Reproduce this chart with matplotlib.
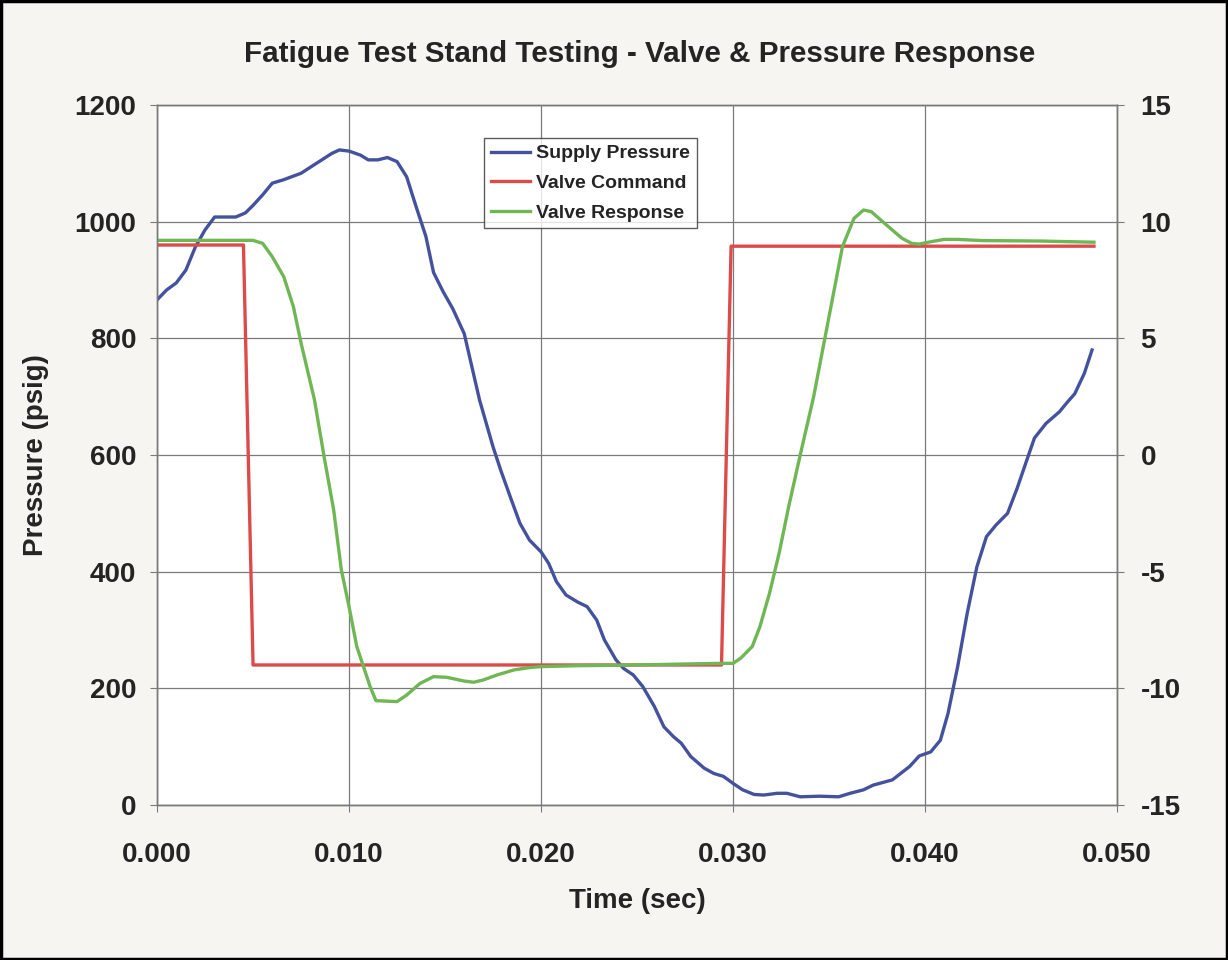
import matplotlib
matplotlib.use("Agg")
import matplotlib.pyplot as plt
from matplotlib.patches import Rectangle

# supply pressure (psig) vs time (sec)
t_supply = [0.0000, 0.0005, 0.0010, 0.0015, 0.0020, 0.0025, 0.0030, 0.0041, 0.0046, 0.0050,
            0.0055, 0.0060, 0.0066, 0.0075, 0.0083, 0.0091, 0.0095, 0.0100, 0.0106, 0.0110,
            0.0115, 0.0120, 0.0125, 0.0130, 0.0135, 0.0140, 0.0144, 0.0149, 0.0154, 0.0160,
            0.0164, 0.0168, 0.0175, 0.0179, 0.0184, 0.0189, 0.0194, 0.0200, 0.0204, 0.0208,
            0.0213, 0.0219, 0.0224, 0.0229, 0.0233, 0.0239, 0.0243, 0.0248, 0.0253, 0.0259,
            0.0264, 0.0269, 0.0273, 0.0278, 0.0285, 0.0290, 0.0295, 0.0300, 0.0305, 0.0311,
            0.0316, 0.0323, 0.0328, 0.0335, 0.0345, 0.0355, 0.0361, 0.0368, 0.0373, 0.0383,
            0.0392, 0.0397, 0.0403, 0.0408, 0.0412, 0.0417, 0.0422, 0.0427, 0.0432, 0.0437,
            0.0443, 0.0448, 0.0453, 0.0457, 0.0463, 0.0470, 0.0474, 0.0478, 0.0483, 0.0487]
supply = [866, 883, 895, 917, 957, 986, 1008, 1008, 1015, 1028,
          1046, 1066, 1072, 1083, 1100, 1117, 1123, 1121, 1114, 1106,
          1106, 1110, 1103, 1077, 1025, 975, 913, 880, 851, 808,
          751, 694, 614, 574, 528, 483, 454, 434, 414, 383,
          360, 348, 340, 317, 283, 249, 234, 223, 203, 169,
          134, 117, 106, 83, 63, 54, 49, 37, 26, 18,
          17, 20, 20, 14, 15, 14, 20, 26, 34, 43,
          66, 84, 91, 111, 157, 237, 329, 408, 460, 480,
          500, 543, 591, 629, 654, 674, 690, 705, 740, 780]

# valve command (right axis)
t_cmd = [0.0000, 0.0045, 0.0050, 0.0294, 0.0299, 0.0488]
command = [9.0, 9.0, -9.0, -9.0, 8.95, 8.95]

# valve response (right axis)
t_resp = [0.0000, 0.0046, 0.0050, 0.0055, 0.0060, 0.0066, 0.0071, 0.0075, 0.0082, 0.0087,
          0.0092, 0.0096, 0.0100, 0.0104, 0.0111, 0.0114, 0.0125, 0.0130, 0.0137, 0.0144,
          0.0151, 0.0160, 0.0165, 0.0170, 0.0177, 0.0186, 0.0194, 0.0200, 0.0220, 0.0250,
          0.0280, 0.0295, 0.0300, 0.0304, 0.0310, 0.0314, 0.0319, 0.0324, 0.0329, 0.0335,
          0.0342, 0.0348, 0.0353, 0.0357, 0.0363, 0.0368, 0.0372, 0.0377, 0.0383, 0.0388,
          0.0393, 0.0397, 0.0403, 0.0410, 0.0417, 0.0430, 0.0460, 0.0488]
response = [9.2, 9.2, 9.2, 9.07, 8.5, 7.64, 6.36, 4.8, 2.36, -0.07,
            -2.36, -4.93, -6.5, -8.2, -9.93, -10.53, -10.57, -10.29, -9.79, -9.5,
            -9.53, -9.69, -9.74, -9.64, -9.43, -9.21, -9.11, -9.07, -9.03, -9.0,
            -8.95, -8.93, -8.93, -8.71, -8.21, -7.36, -5.93, -4.21, -2.21, 0.0,
            2.5, 5.07, 7.21, 8.93, 10.14, 10.5, 10.43, 10.07, 9.64, 9.29,
            9.07, 9.04, 9.14, 9.24, 9.24, 9.19, 9.17, 9.12]

x_ticks = [0.000, 0.010, 0.020, 0.030, 0.040, 0.050]
left_ticks = [0, 200, 400, 600, 800, 1000, 1200]
right_ticks = [-15, -10, -5, 0, 5, 10, 15]

plt.rcParams['font.family'] = ['Liberation Sans', 'DejaVu Sans']
plt.rcParams['font.weight'] = 'bold'
plt.rcParams['axes.unicode_minus'] = False

fig = plt.figure(figsize=(12.28, 9.6), dpi=100, facecolor='#f6f5f1')
ax = fig.add_axes([0.1279, 0.1615, 0.7817, 0.7291])
ax2 = ax.twinx()

grid_c = '#7a7a7a'
text_c = '#242424'
l1, = ax.plot(t_supply, supply, color='#44529e', lw=2.4, label='Supply Pressure')
l2, = ax2.plot(t_cmd, command, color='#dd4a4a', lw=2.4, label='Valve Command')
l3, = ax2.plot(t_resp, response, color='#6fb654', lw=2.4, label='Valve Response')

ax.set_xlim(0, 0.050)
ax.set_ylim(0, 1200)
ax2.set_ylim(-15, 15)
ax.set_xticks(x_ticks)
ax.set_xticklabels(['%.3f' % v for v in x_ticks])
ax.set_yticks(left_ticks)
ax2.set_yticks(right_ticks)

ax.grid(True, color=grid_c, lw=0.9)
ax.set_facecolor('white')
for a in (ax, ax2):
    for s in a.spines.values():
        s.set_color(grid_c)
        s.set_linewidth(1.0)
ax.tick_params(axis='both', direction='out', length=5, color=grid_c, labelsize=20)
ax.tick_params(axis='x', pad=22)
ax.tick_params(axis='y', pad=10)
ax2.tick_params(axis='y', direction='out', length=5, color=grid_c, labelsize=20, pad=12)
for lab in ax.get_xticklabels() + ax.get_yticklabels() + ax2.get_yticklabels():
    lab.set_fontweight('bold')
    lab.set_color(text_c)

ax.set_xlabel('Time (sec)', fontsize=20, fontweight='bold', color=text_c, labelpad=14)
ax.set_ylabel('Pressure (psig)', fontsize=20, fontweight='bold', color=text_c, labelpad=18)
fig.text(0.521, 0.944, 'Fatigue Test Stand Testing - Valve & Pressure Response',
         ha='center', va='center', fontsize=21.3, fontweight='bold', color=text_c)

leg = ax2.legend(handles=[l1, l2, l3], loc='upper left', bbox_to_anchor=(0.341, 0.953),
                 fontsize=14, frameon=True, fancybox=False, handlelength=2.0,
                 handletextpad=0.3, borderpad=0.35, labelspacing=0.62, borderaxespad=0)
leg.get_frame().set_edgecolor('#333333')
leg.get_frame().set_linewidth(1.0)
for txt in leg.get_texts():
    txt.set_fontweight('bold')
    txt.set_color(text_c)

fig.patches.append(Rectangle((0.001, 0.001), 0.998, 0.998, transform=fig.transFigure,
                             fill=False, edgecolor='black', lw=2.5))

fig.savefig('out.png', dpi=100, facecolor=fig.get_facecolor())
